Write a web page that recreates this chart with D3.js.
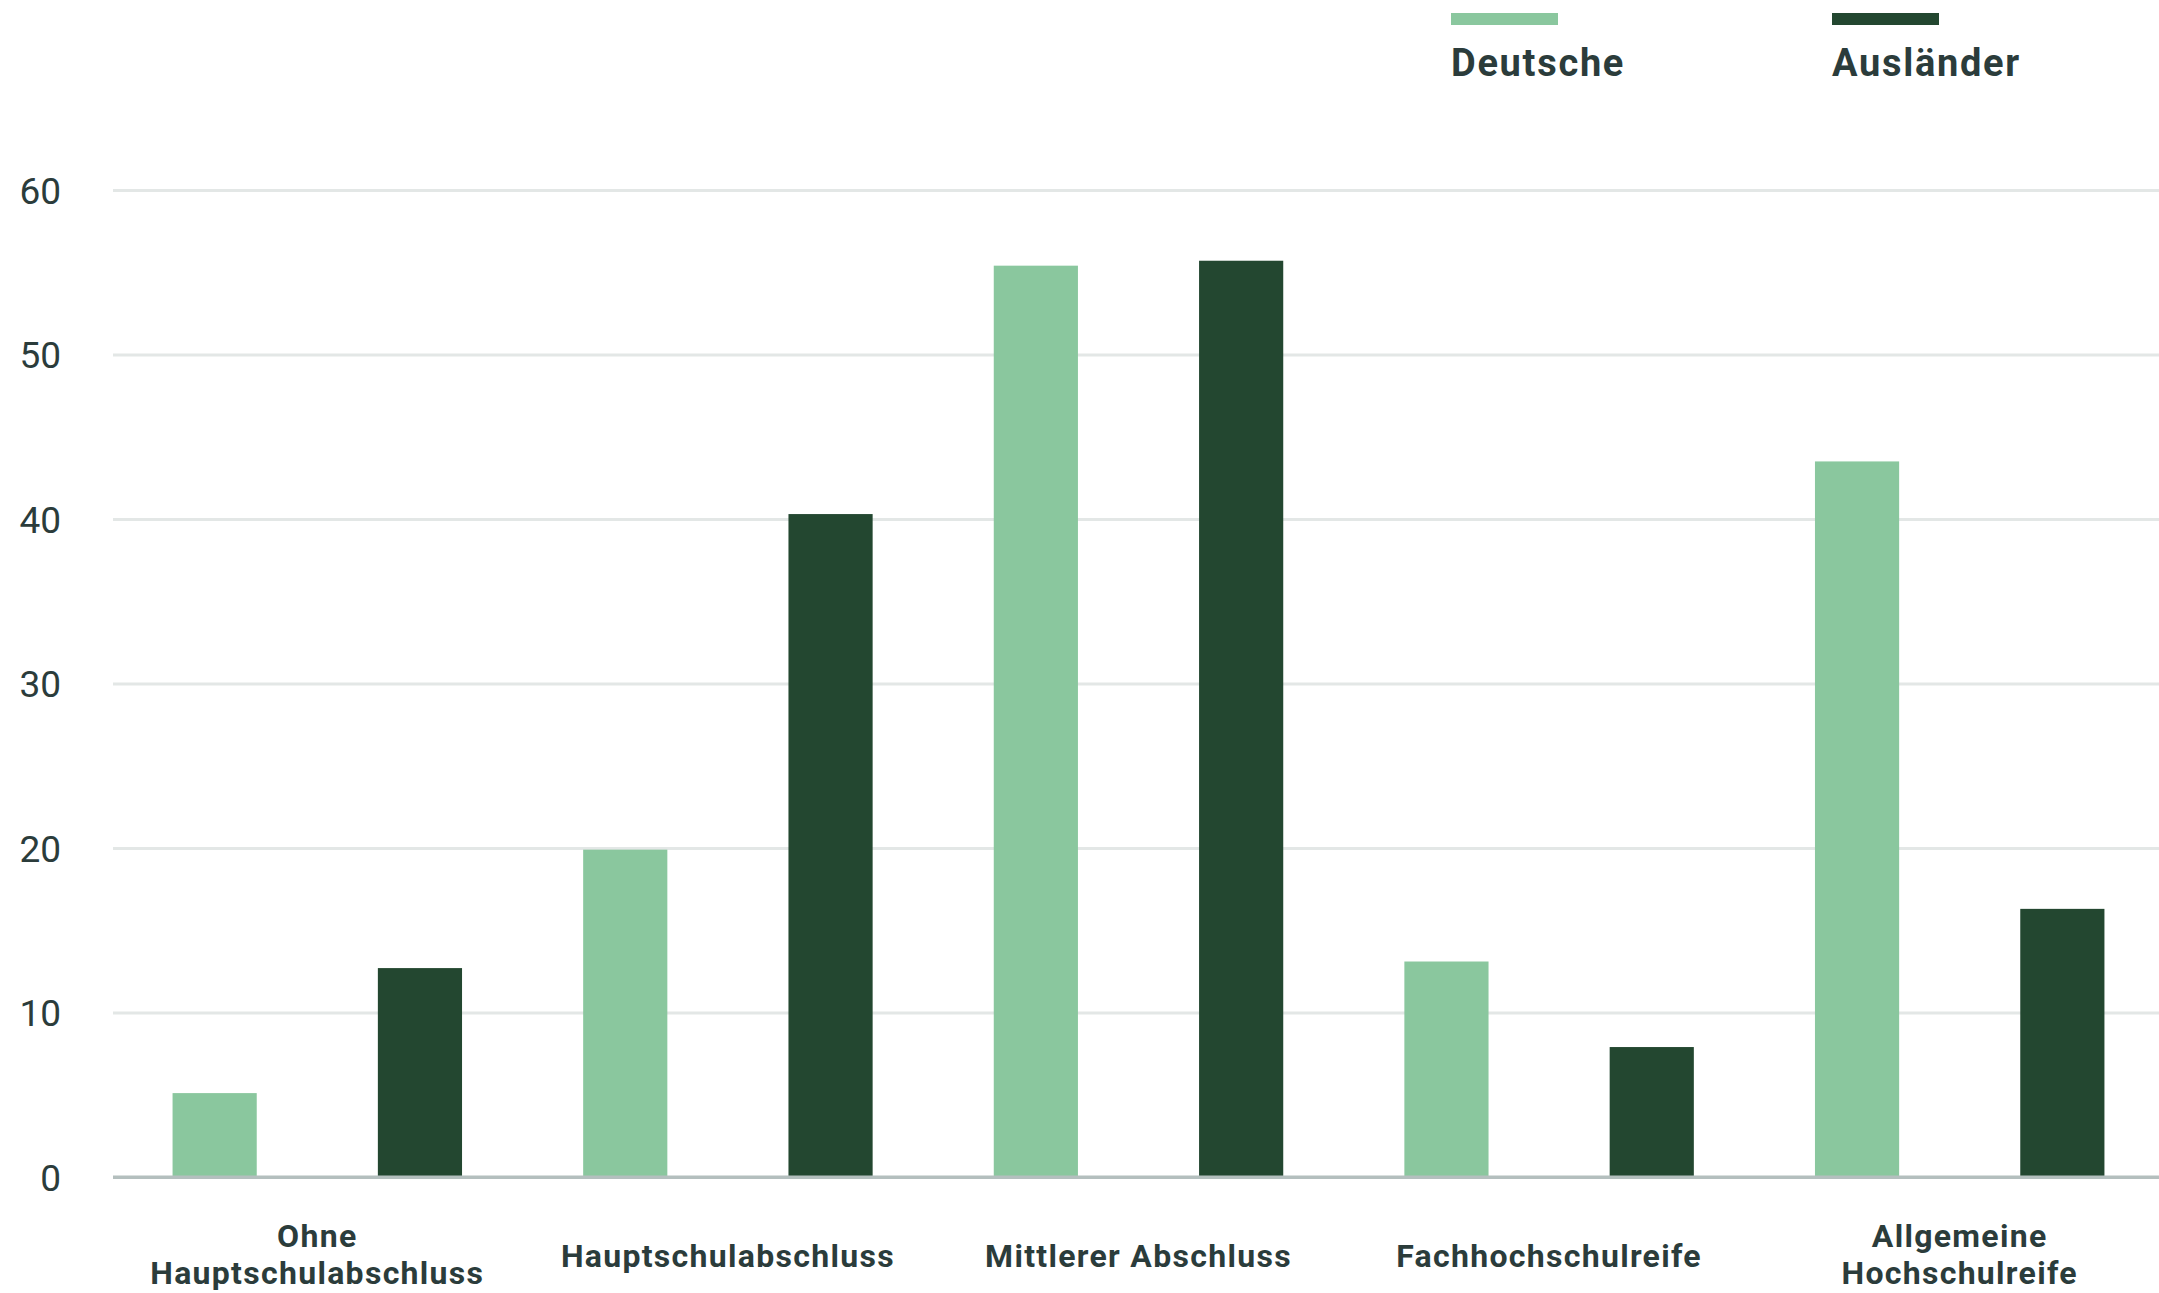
<!DOCTYPE html>
<html><head><meta charset="utf-8">
<script src="https://cdn.jsdelivr.net/npm/d3@7"></script>
<style>
html,body{margin:0;padding:0;background:#fff;}
svg{display:block;}
</style></head>
<body>
<svg id="chart" width="2159" height="1293"></svg>
<script>
const categories = [["Ohne","Hauptschulabschluss"],["Hauptschulabschluss"],["Mittlerer Abschluss"],["Fachhochschulreife"],["Allgemeine","Hochschulreife"]];
const seriesNames = ["Deutsche","Ausländer"];
const deutsche = [5.1, 19.9, 55.4, 13.1, 43.5];
const auslaender = [12.7, 40.3, 55.7, 7.9, 16.3];
const yTicks = [0,10,20,30,40,50,60];
const colors = ["#8ac79e","#234730"];

(function(){
const W = 2159, H = 1293;
const mLeft = 112, mRight = 2165, mTop = 190, mBottom = 1177;
const gridLeft = 113, gridRight = W;
const svg = d3.select("#chart");
const textColor = "#2b3c3b";

const catKeys = categories.map(c => c.join(" "));
const x0 = d3.scaleBand().domain(catKeys).range([mLeft, mRight]).paddingInner(0).paddingOuter(0);
const x1 = d3.scaleBand().domain(seriesNames).range([0, x0.bandwidth()]).paddingInner(0.59).paddingOuter(0.295);
const y = d3.scaleLinear().domain([0,60]).range([mBottom, mTop]);

const yAxis = d3.axisLeft(y).tickValues(yTicks).tickSize(-(gridRight-gridLeft)).tickPadding(52).tickFormat(d3.format("d"));
const gy = svg.append("g").attr("transform", `translate(${gridLeft},0)`).call(yAxis);
gy.select(".domain").remove();
gy.selectAll(".tick line").attr("stroke", d => d === 0 ? "#b4bfbe" : "#e3e7e6").attr("stroke-width", 3);
gy.selectAll(".tick text").attr("fill", textColor).style("font-family","Roboto").style("font-size","37px")
  .attr("dy","0.36em");

const data = catKeys.map((k,i) => ({key:k, values:[deutsche[i], auslaender[i]]}));
const groups = svg.append("g").selectAll("g").data(data).join("g").attr("transform", d => `translate(${x0(d.key)},0)`);
groups.selectAll("rect").data(d => d.values.map((v,j) => ({s:seriesNames[j], v, j})))
  .join("rect")
  .attr("x", d => x1(d.s)).attr("width", x1.bandwidth())
  .attr("y", d => y(d.v)).attr("height", d => y(0) - y(d.v))
  .attr("fill", d => colors[d.j]);

svg.append("line").attr("x1", gridLeft).attr("x2", gridRight).attr("y1", y(0)).attr("y2", y(0)).attr("stroke","#b4bfbe").attr("stroke-width",3);

const xl = svg.append("g");
categories.forEach((lines, i) => {
  const cx = x0(catKeys[i]) + x0.bandwidth()/2;
  const t = xl.append("text").attr("x", cx).attr("text-anchor","middle")
    .attr("fill", textColor).style("font-family","Roboto").style("font-weight","700")
    .style("font-size","32px").style("letter-spacing","1.3px");
  const base = lines.length === 1 ? 1266.5 : 1246.5;
  lines.forEach((ln, k) => {
    t.append("tspan").attr("x", cx).attr("y", base + k*37.5).text(ln);
  });
});

const legendX = [1451, 1832];
seriesNames.forEach((s, i) => {
  svg.append("rect").attr("x", legendX[i]).attr("y", 13).attr("width", 107).attr("height", 12).attr("fill", colors[i]);
  svg.append("text").attr("x", legendX[i]).attr("y", 76).text(s)
    .attr("fill", textColor).style("font-family","Roboto").style("font-weight","700")
    .style("font-size","38px").style("letter-spacing","1.7px");
});
})();
</script>
</body></html>
